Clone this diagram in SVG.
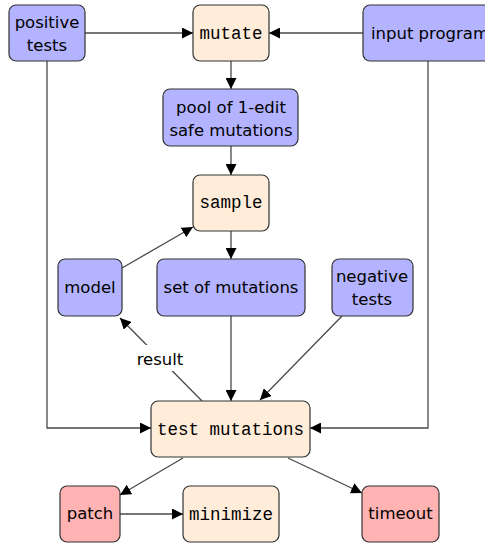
<svg xmlns="http://www.w3.org/2000/svg" width="485" height="547" viewBox="0 0 485 547">
<defs>
<marker id="ah" viewBox="0 0 10 10" refX="10" refY="5" markerWidth="11" markerHeight="11" markerUnits="userSpaceOnUse" orient="auto">
<path d="M0,0 L10,5 L0,10 z" fill="#000"/>
</marker>
</defs>
<style>
.blue{fill:#b3b3ff;stroke:#333;stroke-width:1.2}
.orange{fill:#ffecd9;stroke:#333;stroke-width:1.2}
.red{fill:#ffb3b3;stroke:#333;stroke-width:1.2}
.sans{font-family:"DejaVu Sans","Liberation Sans",sans-serif;font-size:16.5px;fill:#000;text-anchor:middle}
.mono{font-family:"Liberation Mono","DejaVu Sans Mono",monospace;font-size:17.5px;fill:#000;text-anchor:middle}
.c{fill:none;stroke:#555;stroke-width:1.3}
.ca{fill:none;stroke:#4a4a4a;stroke-width:1.3;marker-end:url(#ah)}
</style>
<rect width="485" height="547" fill="#fff"/>
<g id="connectors">
<line class="ca" x1="85" y1="33" x2="193" y2="33"/>
<line class="ca" x1="363" y1="33" x2="269" y2="33"/>
<line class="ca" x1="231" y1="61" x2="231" y2="89"/>
<line class="ca" x1="231" y1="146" x2="231" y2="175"/>
<line class="ca" x1="231" y1="231" x2="231" y2="259"/>
<line class="ca" x1="122" y1="268" x2="193" y2="227"/>
<polyline class="ca" points="47,61 47,428 151,428"/>
<polyline class="ca" points="428,61 428,428 310,428"/>
<line class="ca" x1="231" y1="316" x2="231" y2="401"/>
<line class="ca" x1="342" y1="316" x2="260" y2="400"/>
<line class="ca" x1="202" y1="401" x2="120" y2="318"/>
<line class="ca" x1="183" y1="458" x2="120" y2="495"/>
<line class="ca" x1="288" y1="458" x2="362" y2="493"/>
<line class="ca" x1="120" y1="514" x2="183" y2="514"/>
<rect x="134" y="345" width="52" height="26" fill="#fff"/>
<text class="sans" x="160" y="365">result</text>
</g>
<g id="positive-tests">
<rect class="blue" x="9" y="5" width="76" height="56" rx="7"/>
<text class="sans" x="47" y="28">positive</text>
<text class="sans" x="47" y="51">tests</text>
</g>
<g id="mutate">
<rect class="orange" x="193" y="5" width="76" height="56" rx="7"/>
<text class="mono" x="231" y="39">mutate</text>
</g>
<g id="input-program">
<rect class="blue" x="363" y="5" width="134" height="56" rx="7"/>
<text class="sans" x="430" y="39">input program</text>
</g>
<g id="pool">
<rect class="blue" x="163" y="89" width="135" height="57" rx="7"/>
<text class="sans" x="231" y="113">pool of 1-edit</text>
<text class="sans" x="231" y="136">safe mutations</text>
</g>
<g id="sample">
<rect class="orange" x="193" y="175" width="76" height="56" rx="7"/>
<text class="mono" x="231" y="208">sample</text>
</g>
<g id="model">
<rect class="blue" x="58" y="259" width="64" height="57" rx="7"/>
<text class="sans" x="90" y="293">model</text>
</g>
<g id="set-of-mutations">
<rect class="blue" x="157" y="259" width="148" height="57" rx="7"/>
<text class="sans" x="231" y="293">set of mutations</text>
</g>
<g id="negative-tests">
<rect class="blue" x="332" y="259" width="81" height="57" rx="7"/>
<text class="sans" x="372" y="282">negative</text>
<text class="sans" x="372" y="305">tests</text>
</g>
<g id="test-mutations">
<rect class="orange" x="151" y="401" width="159" height="56" rx="7"/>
<text class="mono" x="230.5" y="435">test mutations</text>
</g>
<g id="patch">
<rect class="red" x="60" y="486" width="60" height="56" rx="7"/>
<text class="sans" x="90" y="519">patch</text>
</g>
<g id="minimize">
<rect class="orange" x="183" y="486" width="96" height="56" rx="7"/>
<text class="mono" x="231" y="520">minimize</text>
</g>
<g id="timeout">
<rect class="red" x="362" y="486" width="77" height="56" rx="7"/>
<text class="sans" x="400.5" y="519">timeout</text>
</g>
</svg>
